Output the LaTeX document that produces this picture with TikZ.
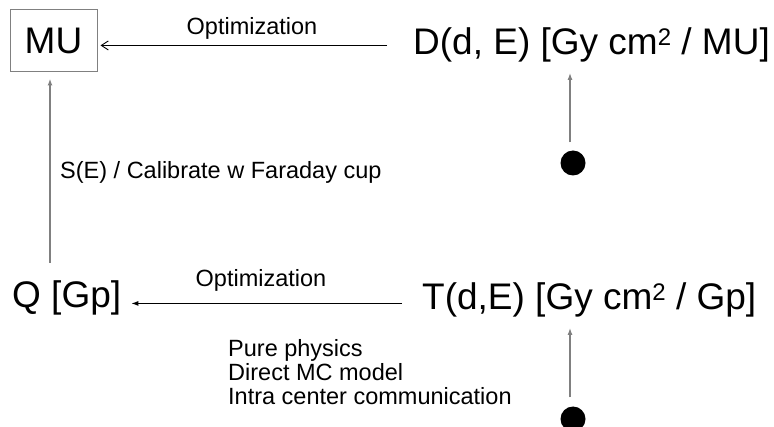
\documentclass[tikz,border=0pt]{standalone}
\usepackage{fontspec}
\setmainfont{Liberation Sans}
\usetikzlibrary{arrows.meta,shapes}
\tikzstyle{bigtxt}=[font=\fontsize{37}{40}\selectfont, inner sep=0pt]
\tikzstyle{smalltxt}=[font=\fontsize{23.5}{24}\selectfont, inner sep=0pt]
\tikzstyle{blob}=[circle,fill=black,minimum size=25pt,inner sep=0pt]
\tikzstyle{openarr}=[-{Straight Barb[length=7pt,width=9pt]}, line width=0.9pt]
\tikzstyle{fillarr}=[-{Latex[length=7pt,width=5pt]}, line width=1pt]
\tikzstyle{grayarr}=[fillarr, draw=gray, line width=1.4pt]
\newcommand{\sqr}{\raisebox{9.5pt}{\fontsize{24}{24}\selectfont 2}}

\begin{document}
\begin{tikzpicture}[x=1pt,y=-1pt]
\useasboundingbox (0,0) rectangle (774,427);
\node[draw=gray, line width=1pt, bigtxt, minimum width=87pt, minimum height=62pt] (MU) at (53.5,41) {MU};
\node[bigtxt, anchor=base west] (D) at (413,55) {D(d, E) [Gy cm\sqr{} / MU]};
\node[blob] (dot1) at (573,163) {};
\node[bigtxt, anchor=base west] (Q) at (12,308) {Q [Gp]};
\node[bigtxt, anchor=base west] (T) at (422,310) {T(d,E) [Gy cm\sqr{} / Gp]};
\node[blob] (dot2) at (573,419) {};
\node[smalltxt, anchor=base] (opt1) at (252,35) {Optimization};
\node[smalltxt, anchor=base] (opt2) at (261,287) {Optimization};
\node[smalltxt, anchor=base west] (cal) at (60,179) {S(E) / Calibrate w Faraday cup};
% base of a multi-line node is its last line
\node[smalltxt, anchor=base west, align=left] (notes) at (228,405) {Pure physics\\Direct MC model\\Intra center communication};
\draw[openarr, shorten <=26pt, shorten >=3pt] (D.west) -- (D.west -| MU.east);
\draw[fillarr, shorten <=20pt, shorten >=10pt] ([yshift=-3pt]T.west) -- ([yshift=-3pt]T.west -| Q.east);
\draw[grayarr, shorten <=8pt, shorten >=10pt] ([xshift=-3pt]dot1.north) -- ([xshift=-3pt]dot1.north |- D.south);
\draw[grayarr, shorten <=9pt, shorten >=10pt] ([xshift=-3pt]dot2.north) -- ([xshift=-3pt]dot2.north |- T.south);
\draw[grayarr, shorten <=18pt, shorten >=6pt] ([xshift=-3.5pt]MU.south |- Q.north) -- ([xshift=-3.5pt]MU.south);
\end{tikzpicture}
\end{document}
